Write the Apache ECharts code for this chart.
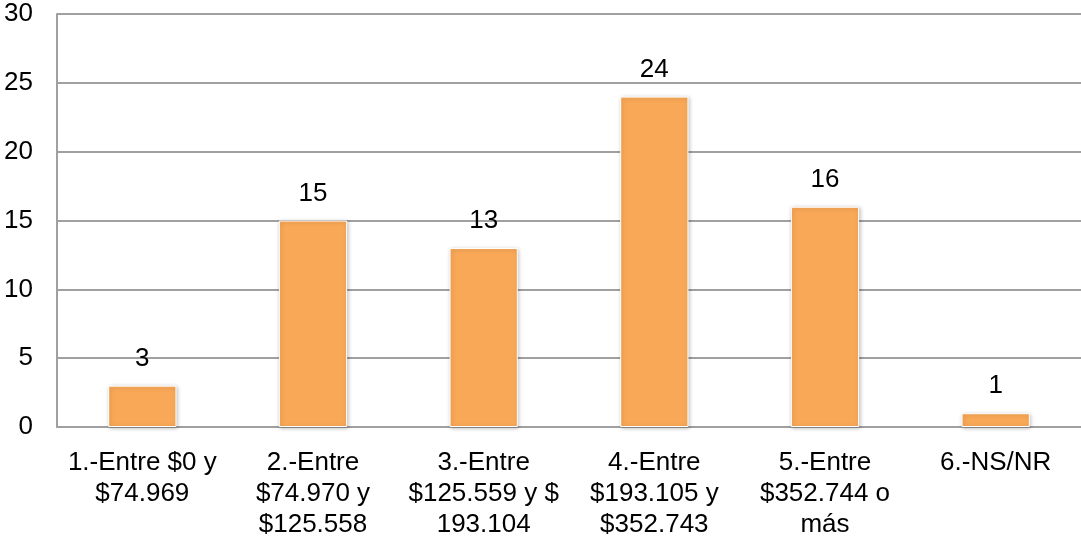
<!DOCTYPE html>
<html>
<head>
<meta charset="utf-8">
<script src="https://cdn.jsdelivr.net/npm/echarts@6/dist/echarts.min.js"></script>
<style>
  html, body { margin: 0; padding: 0; background: #fff; }
  #chart { width: 1081px; height: 542px; }
</style>
</head>
<body>
<div id="chart"></div>
<script>
const categories = [
  '1.-Entre $0 y\n$74.969',
  '2.-Entre\n$74.970 y\n$125.558',
  '3.-Entre\n$125.559 y $\n193.104',
  '4.-Entre\n$193.105 y\n$352.743',
  '5.-Entre\n$352.744 o\nmás',
  '6.-NS/NR'
]
const values = [3, 15, 13, 24, 16, 1]
const yTicks = { min: 0, max: 30, interval: 5 }

const chart = echarts.init(document.getElementById('chart'))
chart.setOption({
  animation: false,
  textStyle: { fontFamily: 'Liberation Sans, Arial, sans-serif' },
  grid: { left: 57, right: 0, top: 14, bottom: 115 },
  xAxis: {
    type: 'category',
    data: categories,
    axisTick: { show: false },
    axisLine: { lineStyle: { color: '#a0a0a0', width: 2 } },
    axisLabel: {
      color: '#000',
      fontSize: 26,
      lineHeight: 31,
      margin: 20,
      interval: 0,
      align: 'center'
    }
  },
  yAxis: {
    type: 'value',
    min: yTicks.min,
    max: yTicks.max,
    interval: yTicks.interval,
    axisLine: { show: true, lineStyle: { color: '#a0a0a0', width: 2 } },
    axisTick: { show: false },
    axisLabel: { color: '#000', fontSize: 26, margin: 24 },
    splitLine: { lineStyle: { color: '#a0a0a0', width: 2 } }
  },
  series: [{
    type: 'bar',
    data: values,
    barWidth: '40%',
    itemStyle: {
      color: '#F9A857',
      borderColor: '#ffffff',
      borderWidth: 1,
      shadowColor: 'rgba(0,0,0,0.25)',
      shadowBlur: 4,
      shadowOffsetX: 1,
      shadowOffsetY: 1
    },
    label: {
      show: true,
      position: 'top',
      distance: 14,
      color: '#000',
      fontSize: 26
    }
  }]
})
</script>
</body>
</html>
